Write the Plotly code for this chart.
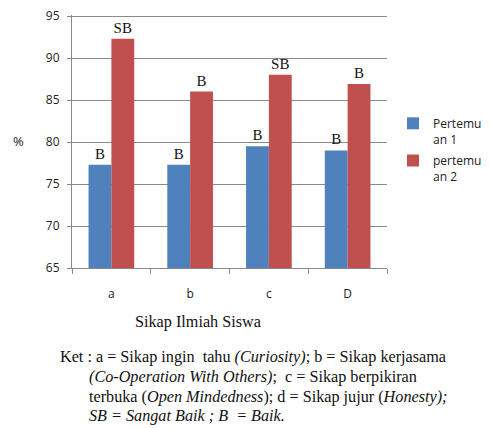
import plotly.graph_objects as go

categories = ["a", "b", "c", "D"]
pertemuan1 = [77.3, 77.3, 79.5, 79.0]
pertemuan2 = [92.3, 86.0, 88.0, 86.9]
labels1 = ["B", "B", "B", "B"]
labels2 = ["SB", "B", "SB", "B"]
series_names = ["Pertemu<br>an 1", "pertemu<br>an 2"]
y_ticks = [65, 70, 75, 80, 85, 90, 95]

SERIF = "Liberation Serif, Times New Roman, serif"
SANS = "Open Sans, Noto Sans, sans-serif"

# the page body has an 8px margin, so figure coords = screen coords - 8
OFF = 8
W, H = 490 - OFF, 428 - OFF
PL, PR, PT, PB = 72, 387, 15, 268  # plot area in screen pixels
L, T = PL - OFF, PT - OFF
R, B = W - (PR - OFF), H - (PB - OFF)
PW, PH = PR - PL, PB - PT


def px(x):
    return (x - PL) / PW


def py(y):
    return (PB - y) / PH


def cx(x):
    return (x - OFF) / W


def cy(y):
    return 1 - (y - OFF) / H


fig = go.Figure()
fig.add_trace(go.Bar(x=categories, y=pertemuan1, name=series_names[0],
                     legendgroup="g1",
                     marker=dict(color="#4F81BD", line=dict(width=0)),
                     text=labels1, textposition="outside", cliponaxis=False,
                     textfont=dict(family=SERIF, size=15, color="#111")))
fig.add_trace(go.Bar(x=categories, y=pertemuan2, name=series_names[1],
                     legendgroup="g2",
                     marker=dict(color="#C0504D", line=dict(width=0)),
                     text=labels2, textposition="outside", cliponaxis=False,
                     textfont=dict(family=SERIF, size=15, color="#111")))

fig.update_layout(
    width=W, height=H,
    margin=dict(l=L, r=R, t=T, b=B, pad=0, autoexpand=False),
    paper_bgcolor="white", plot_bgcolor="white",
    barmode="group", bargap=0.42, bargroupgap=0,
    showlegend=True,
    legend=dict(xref="container", yref="container",
                x=cx(393), y=cy(109), xanchor="left", yanchor="top",
                font=dict(family=SANS, size=12, color="#222"),
                itemwidth=30, valign="top", tracegroupgap=3,
                bgcolor="rgba(0,0,0,0)"),
    font=dict(family=SANS, size=12, color="#222"),
)
fig.update_yaxes(range=[65, 95.12], tickvals=y_ticks, showgrid=True,
                 gridcolor="#8a8a8a", gridwidth=1, showline=True,
                 linecolor="#8a8a8a", linewidth=1, ticks="outside",
                 ticklen=4, tickcolor="#8a8a8a", automargin=False,
                 ticklabelstandoff=5, ticklabeloverflow="allow",
                 tickfont=dict(family=SANS, size=12, color="#222"),
                 zeroline=False)
fig.update_xaxes(showline=True, linecolor="#8a8a8a", linewidth=1,
                 ticks="outside", ticklen=5, tickcolor="#8a8a8a",
                 tickson="boundaries", ticklabelstandoff=15, automargin=False,
                 tickfont=dict(family=SANS, size=12, color="#222"))

CAP = dict(family=SERIF, size=16.2, color="#111")
anns = [
    dict(x=px(19), y=py(141), text="%", font=dict(family=SANS, size=13, color="#222"),
         xanchor="center", yanchor="middle"),
    dict(x=px(198), y=py(322), text="Sikap Ilmiah Siswa",
         font=CAP, xanchor="center", yanchor="middle"),
    dict(x=px(58), y=py(357),
         text="Ket : a = Sikap ingin  tahu <i>(Curiosity)</i>; b = Sikap kerjasama",
         font=CAP, xanchor="left", yanchor="middle"),
    dict(x=px(87), y=py(377),
         text="<i>(Co-Operation With Others)</i>;  c = Sikap berpikiran",
         font=CAP, xanchor="left", yanchor="middle"),
    dict(x=px(87), y=py(397),
         text="terbuka (<i>Open Mindedness</i>); d = Sikap jujur (<i>Honesty);</i>",
         font=CAP, xanchor="left", yanchor="middle"),
    dict(x=px(87), y=py(416),
         text="<i>SB = Sangat Baik ; B  = Baik.</i>",
         font=CAP, xanchor="left", yanchor="middle"),
]
for a in anns:
    a.update(xref="paper", yref="paper", showarrow=False)
fig.update_layout(annotations=anns)

fig.write_html("out.html")
